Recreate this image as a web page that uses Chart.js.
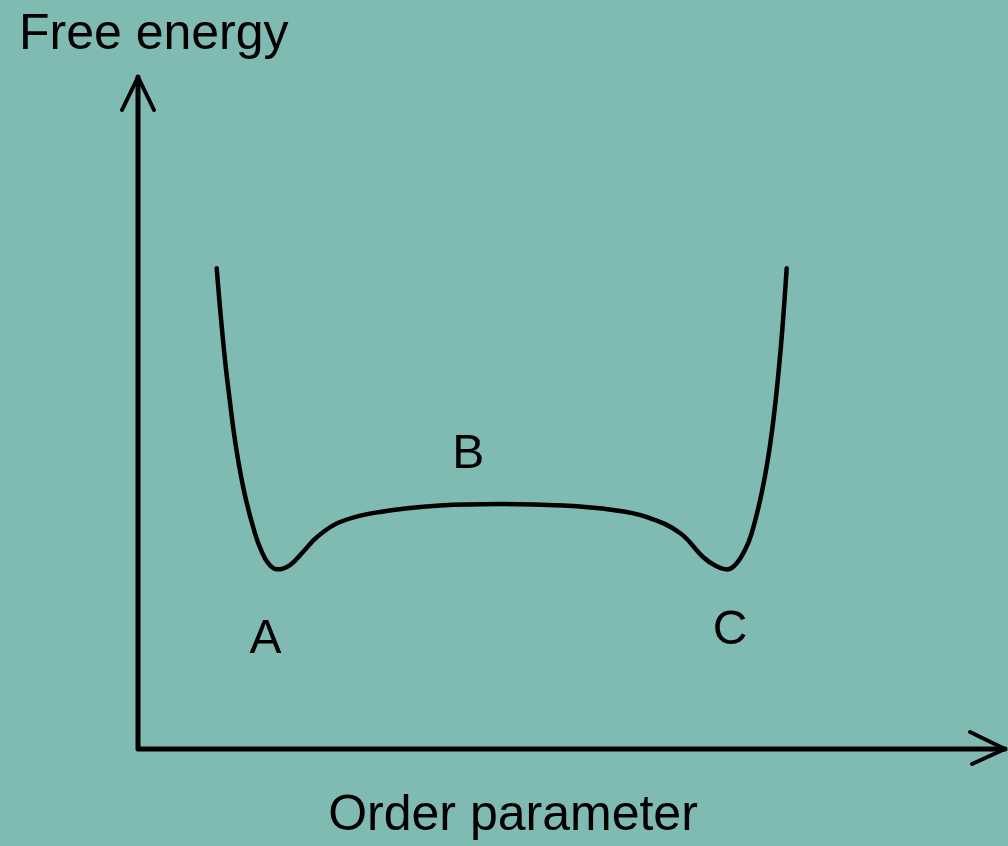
<!DOCTYPE html>
<html>
<head>
<meta charset="utf-8">
<script src="https://cdn.jsdelivr.net/npm/chart.js@4/dist/chart.umd.min.js"></script>
<style>
  html, body { margin: 0; padding: 0; background: #7fbab3; }
  #wrap { width: 1008px; height: 846px; }
</style>
</head>
<body>
<div id="wrap"><canvas id="c" width="1008" height="846"></canvas></div>
<script>
// Order parameter (x) and free energy (y)
const orderParam = [0.908, 0.938, 0.973, 1.012, 1.058, 1.107, 1.168, 1.246, 1.349, 1.419, 1.503, 1.600,
  1.753, 1.903, 2.065, 2.330, 2.791, 3.483, 4.210, 4.902, 5.479, 5.871, 6.251, 6.517, 6.667,
  6.808, 6.905, 7.001, 7.078, 7.176, 7.251, 7.309, 7.355, 7.394, 7.428, 7.457, 7.482];
const freeEnergy = [7.153, 6.682, 6.186, 5.689, 5.193, 4.698, 4.201, 3.705, 3.210, 2.961, 2.763, 2.674,
  2.738, 2.932, 3.155, 3.378, 3.527, 3.622, 3.645, 3.622, 3.557, 3.452, 3.214, 2.857, 2.723,
  2.674, 2.763, 2.961, 3.210, 3.705, 4.201, 4.698, 5.193, 5.689, 6.186, 6.682, 7.153];

// State labels and the states they mark
const stateLabels = ['A', 'B', 'C'];
const stateX = [1.47, 3.81, 6.83];
const stateY = [1.43, 4.18, 1.56];

const xTitle = 'Order parameter';
const yTitle = 'Free energy';

const points = orderParam.map((x, i) => ({ x: x, y: freeEnergy[i] }));

const FONT = '"Liberation Sans", Arial, Helvetica, sans-serif';

const overlay = {
  id: 'overlay',
  afterDatasetsDraw(chart) {
    const ctx = chart.ctx;
    const xs = chart.scales.x, ys = chart.scales.y;
    const x0 = xs.getPixelForValue(xs.min), x1 = xs.getPixelForValue(xs.max);
    const y0 = ys.getPixelForValue(ys.min), y1 = ys.getPixelForValue(ys.max);
    ctx.save();
    ctx.strokeStyle = '#000';
    ctx.lineWidth = 5;
    ctx.lineCap = 'round';
    ctx.lineJoin = 'round';
    // axes
    ctx.beginPath();
    ctx.moveTo(x0, y1);
    ctx.lineTo(x0, y0);
    ctx.lineTo(x1, y0);
    ctx.stroke();
    // arrow heads
    ctx.lineWidth = 4;
    ctx.beginPath();
    ctx.moveTo(x0 - 16, y1 + 33);
    ctx.lineTo(x0, y1);
    ctx.lineTo(x0 + 16, y1 + 33);
    ctx.moveTo(x1 - 35, y0 - 17);
    ctx.lineTo(x1, y0);
    ctx.lineTo(x1 - 33, y0 + 15);
    ctx.stroke();
    // texts
    ctx.fillStyle = '#000';
    ctx.font = '50px ' + FONT;
    ctx.textBaseline = 'alphabetic';
    ctx.textAlign = 'left';
    ctx.fillText(yTitle, 19, 49);
    ctx.textAlign = 'center';
    ctx.fillText(xTitle, 513, 830);
    ctx.font = '48px ' + FONT;
    stateLabels.forEach((t, i) => {
      ctx.fillText(t, xs.getPixelForValue(stateX[i]), ys.getPixelForValue(stateY[i]));
    });
    ctx.restore();
  }
};

new Chart(document.getElementById('c'), {
  type: 'scatter',
  data: {
    datasets: [{
      data: points,
      showLine: true,
      borderColor: '#000',
      borderWidth: 4.5,
      pointRadius: 0,
      tension: 0.4,
      borderCapStyle: 'round',
      borderJoinStyle: 'round',
      fill: false
    }]
  },
  options: {
    responsive: false,
    animation: false,
    layout: { padding: { left: 138, right: 3, top: 77, bottom: 97 } },
    plugins: { legend: { display: false }, tooltip: { enabled: false } },
    scales: {
      x: { type: 'linear', min: 0, max: 10, display: false },
      y: { type: 'linear', min: 0, max: 10, display: false }
    }
  },
  plugins: [overlay]
});
</script>
</body>
</html>
